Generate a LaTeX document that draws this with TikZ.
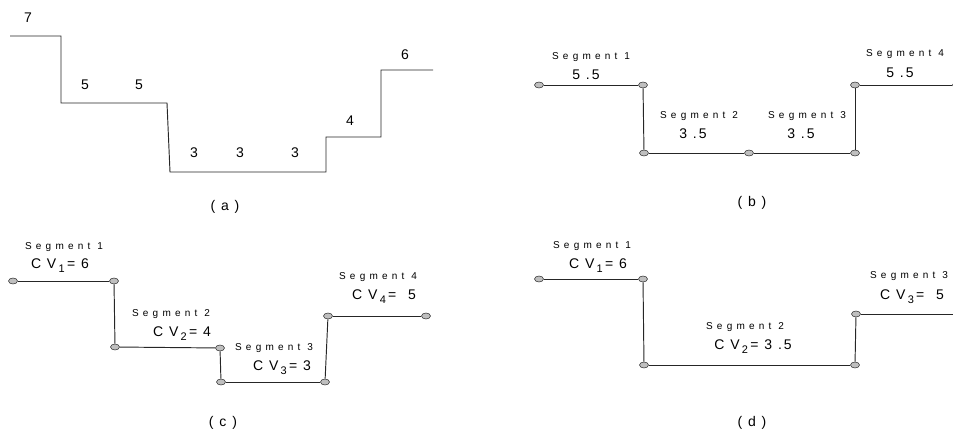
\documentclass[tikz,border=0pt]{standalone}
\usepackage{fontspec}
\setmainfont{Liberation Sans}
\newfontfamily\segfont[LetterSpace=42]{Liberation Sans}
\newfontfamily\numfont[LetterSpace=14]{Liberation Sans}
\usetikzlibrary{shapes.geometric}
\tikzset{
  seg/.style={draw=black!85, line width=0.95pt},
  pt/.style={ellipse, draw=black!75, fill=black!25, line width=0.6pt, minimum width=9pt, minimum height=6pt, inner sep=0pt},
  seglab/.style={font=\segfont\fontsize{10}{11}\selectfont, inner sep=0pt},
  numlab/.style={font=\numfont\fontsize{14}{15}\selectfont, inner sep=0pt},
  caplab/.style={font=\numfont\fontsize{14}{15}\selectfont, inner sep=0pt},
}
\newcommand{\sbx}[1]{\,\raisebox{-4pt}{\fontsize{11}{11}\selectfont #1}\,}
\begin{document}
\begin{tikzpicture}[x=1pt,y=-1pt]
\useasboundingbox (0,0) rectangle (953,430);
% ---------- (a) ----------
\coordinate (a1) at (10,36);
\coordinate (a2) at (61,36);
\coordinate (a3) at (61,103);
\coordinate (a4) at (167,103);
\coordinate (a5) at (170,172);
\coordinate (a6) at (326,172);
\coordinate (a7) at (326,137);
\coordinate (a8) at (381,137);
\coordinate (a9) at (381,70);
\coordinate (a10) at (433,70);
\draw[seg] (a1) -- (a2) -- (a3) -- (a4) -- (a5) -- (a6) -- (a7) -- (a8) -- (a9) -- (a10);
\node[numlab] (la1) at (28,18) {7};
\node[numlab] (la2) at (85,85) {5};
\node[numlab] (la3) at (139,85) {5};
\node[numlab] (la4) at (194,153) {3};
\node[numlab] (la5) at (240,153) {3};
\node[numlab] (la6) at (295,153) {3};
\node[numlab] (la7) at (350,121) {4};
\node[numlab] (la8) at (405,55) {6};
\node[caplab] (capa) at (225,207) {( a )};
% ---------- (b) ----------
\node[pt] (b1) at (539,85) {};
\node[pt] (b2) at (643,85) {};
\node[pt] (b3) at (644,153) {};
\node[pt] (b4) at (749,153) {};
\node[pt] (b5) at (855,153) {};
\node[pt] (b6) at (855,85) {};
\node[pt] (b7) at (957,85) {};
\draw[seg] (b1) -- (b2);
\draw[seg] (b2) -- (b3);
\draw[seg] (b3) -- (b4);
\draw[seg] (b4) -- (b5);
\draw[seg] (b5) -- (b6);
\draw[seg] (b6) -- (b7);
\node[seglab] (sb1) at (591,57) {Segment 1};
\node[numlab] (vb1) at (586,75) {5 .5};
\node[seglab] (sb2) at (699,116) {Segment 2};
\node[numlab] (vb2) at (693,134) {3 .5};
\node[seglab] (sb3) at (807,116) {Segment 3};
\node[numlab] (vb3) at (801,134) {3 .5};
\node[seglab] (sb4) at (905,54) {Segment 4};
\node[numlab] (vb4) at (900,73) {5 .5};
\node[caplab] (capb) at (752,203) {( b )};
% ---------- (c) ----------
\node[pt] (c1) at (13,281) {};
\node[pt] (c2) at (114,281) {};
\node[pt] (c3) at (115,347) {};
\node[pt] (c4) at (220,348) {};
\node[pt] (c5) at (221,382) {};
\node[pt] (c6) at (325,382) {};
\node[pt] (c7) at (328,316) {};
\node[pt] (c8) at (426,316) {};
\draw[seg] (c1) -- (c2);
\draw[seg] (c2) -- (c3);
\draw[seg] (c3) -- (c4);
\draw[seg] (c4) -- (c5);
\draw[seg] (c5) -- (c6);
\draw[seg] (c6) -- (c7);
\draw[seg] (c7) -- (c8);
\node[seglab] (sc1) at (64,247) {Segment 1};
\node[numlab] (vc1) at (60,266) {C V\sbx{1}= 6};
\node[seglab] (sc2) at (171,314) {Segment 2};
\node[numlab] (vc2) at (182,334) {C V\sbx{2}= 4};
\node[seglab] (sc3) at (274,348) {Segment 3};
\node[numlab] (vc3) at (282,368) {C V\sbx{3}= 3};
\node[seglab] (sc4) at (378,277) {Segment 4};
\node[numlab] (vc4) at (384,297) {C V\sbx{4}=\ \ 5};
\node[caplab] (capc) at (223,423) {( c )};
% ---------- (d) ----------
\node[pt] (d1) at (539,279) {};
\node[pt] (d2) at (643,279) {};
\node[pt] (d3) at (644,365) {};
\node[pt] (d4) at (855,365) {};
\node[pt] (d5) at (856,314) {};
\coordinate (d6) at (953,314);
\draw[seg] (d1) -- (d2);
\draw[seg] (d2) -- (d3);
\draw[seg] (d3) -- (d4);
\draw[seg] (d4) -- (d5);
\draw[seg] (d5) -- (d6);
\node[seglab] (sd1) at (592,246) {Segment 1};
\node[numlab] (vd1) at (598,266) {C V\sbx{1}= 6};
\node[seglab] (sd2) at (745,327) {Segment 2};
\node[numlab] (vd2) at (753,347) {C V\sbx{2}= 3 .5};
\node[seglab] (sd3) at (909,276) {Segment 3};
\node[numlab] (vd3) at (912,297) {C V\sbx{3}=\ \ 5};
\node[caplab] (capd) at (752,423) {( d )};
\end{tikzpicture}
\end{document}
